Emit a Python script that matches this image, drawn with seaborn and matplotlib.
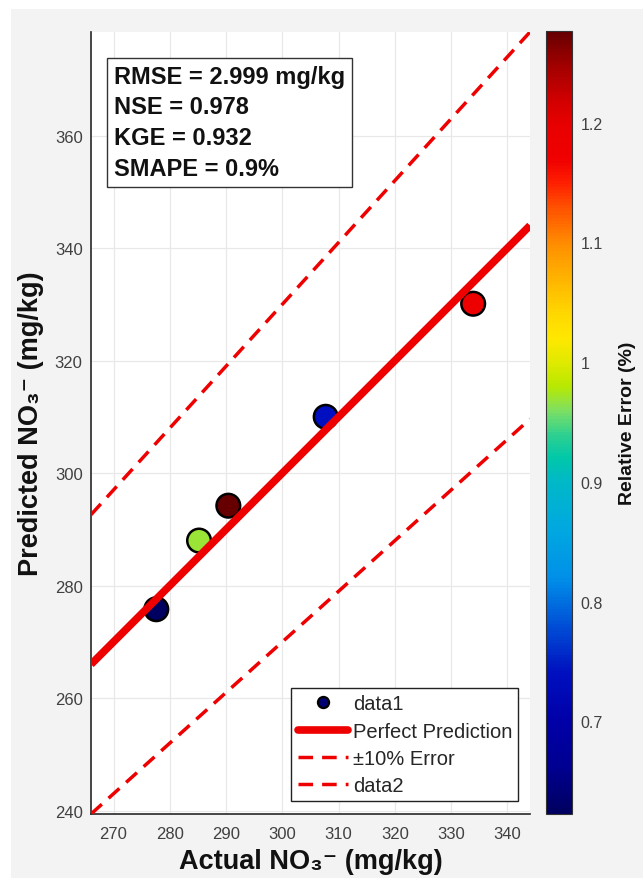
import numpy as np
import pandas as pd
import matplotlib
matplotlib.use("Agg")
import matplotlib.pyplot as plt
import seaborn as sns
from matplotlib.colors import LinearSegmentedColormap, Normalize
from matplotlib.cm import ScalarMappable
from matplotlib.lines import Line2D
from matplotlib.patches import Rectangle

# ---- data ----
actual = [277.6, 285.2, 290.4, 307.7, 333.9]
predicted = [275.8, 288.0, 294.2, 310.0, 330.1]
rel_error = [0.6226, 0.97, 1.2766, 0.74, 1.18]
x_limits = [266.0, 344.0]
y_limits = [239.4, 378.4]
x_ticks = [270, 280, 290, 300, 310, 320, 330, 340]
y_ticks = [240, 260, 280, 300, 320, 340, 360]
cbar_ticks = [0.7, 0.8, 0.9, 1.0, 1.1, 1.2]
cbar_ticklabels = ["0.7", "0.8", "0.9", "1", "1.1", "1.2"]
stats_lines = ["RMSE = 2.999 mg/kg", "NSE = 0.978", "KGE = 0.932", "SMAPE = 0.9%"]
legend_labels = ["data1", "Perfect Prediction", "\u00b110% Error", "data2"]

# colormap stops (value, colour)
cmap_values = [0.6226, 0.66, 0.70, 0.74, 0.77, 0.80, 0.82, 0.86, 0.90, 0.92, 0.94,
               0.96, 0.98, 1.00, 1.02, 1.04, 1.07, 1.10, 1.13, 1.15, 1.17, 1.20,
               1.22, 1.25, 1.2766]
cmap_colors = ["#000060", "#000090", "#0000a8", "#0010c0", "#0040d0", "#0070e0",
               "#0090e8", "#00a8e0", "#00b8c8", "#00c8a8", "#30d090", "#80e060",
               "#b8e800", "#e0ea00", "#ffe800", "#ffd800", "#ffb400", "#ff8c00",
               "#ff5000", "#ff2000", "#f00000", "#e80000", "#d00000", "#a00000",
               "#660000"]

df = pd.DataFrame({"actual": actual, "predicted": predicted, "err": rel_error})

sns.set_theme(style="white")
plt.rcParams["font.family"] = ["Liberation Sans", "DejaVu Sans"]

vmin, vmax = min(rel_error), max(rel_error)
pos = [(v - vmin) / (vmax - vmin) for v in cmap_values]
cmap = LinearSegmentedColormap.from_list("relerr", list(zip(pos, cmap_colors)))
norm = Normalize(vmin=vmin, vmax=vmax)

W, H = 643, 879
fig = plt.figure(figsize=(W / 100, H / 100), dpi=100, facecolor="white")
fig.patches.append(Rectangle((11 / W, 0), 1, 1 - 10 / H, transform=fig.transFigure,
                             facecolor="#f3f3f3", edgecolor="none", zorder=-10))

ax = fig.add_axes([91 / W, 64 / H, 439 / W, 782 / H])
cax = fig.add_axes([546 / W, 64 / H, 26 / W, 783 / H])

ax.set_facecolor("white")
sns.scatterplot(data=df, x="actual", y="predicted", hue="err", palette=cmap,
                hue_norm=norm, s=290, edgecolor="black", linewidth=1.8,
                legend=False, ax=ax, zorder=2)

lx = np.array(x_limits)
ax.plot(lx, lx, color="#ee0000", lw=5.5, solid_capstyle="butt", zorder=3)
ax.plot(lx, 1.1 * lx, color="#ee0000", lw=2.5, ls=(0, (4.2, 2.6)), zorder=3)
ax.plot(lx, 0.9 * lx, color="#ee0000", lw=2.5, ls=(0, (4.2, 2.6)), zorder=3)

ax.set_xlim(x_limits)
ax.set_ylim(y_limits)
ax.set_xticks(x_ticks)
ax.set_yticks(y_ticks)
ax.grid(True, color="#e8e8e8", lw=0.9)
ax.set_axisbelow(True)
for s in ["top", "right"]:
    ax.spines[s].set_visible(False)
for s in ["left", "bottom"]:
    ax.spines[s].set_color("#262626")
    ax.spines[s].set_linewidth(1.2)
ax.tick_params(axis="both", direction="in", length=5, width=1, color="#262626",
               labelcolor="#404040", labelsize=12)
ax.tick_params(axis="x", pad=9)
ax.tick_params(axis="y", pad=6)

ax.set_xlabel("Actual NO\u2083\u207b (mg/kg)", fontsize=19.5, fontweight="bold",
              color="#111111", labelpad=5)
ax.set_ylabel("Predicted NO\u2083\u207b (mg/kg)", fontsize=19.5, fontweight="bold",
              color="#111111", labelpad=8)

ax.text(0.052, 0.958, "\n".join(stats_lines), transform=ax.transAxes, ha="left",
        va="top", fontsize=17, fontweight="bold", color="#111111", linespacing=1.42,
        bbox=dict(boxstyle="square,pad=0.3", facecolor="white", edgecolor="#333333",
                  lw=1.0), zorder=5)

handles = [
    Line2D([], [], ls="none", marker="o", markersize=8, markerfacecolor="#000070",
           markeredgecolor="black", markeredgewidth=1.6),
    Line2D([], [], color="#ee0000", lw=5.5),
    Line2D([], [], color="#ee0000", lw=2.5, ls=(0, (4.2, 2.6))),
    Line2D([], [], color="#ee0000", lw=2.5, ls=(0, (4.2, 2.6))),
]
leg = ax.legend(handles, legend_labels, loc="lower right",
                bbox_to_anchor=(0.9734, 0.017), borderaxespad=0, fontsize=14.5,
                frameon=True, fancybox=False, framealpha=1, edgecolor="#222222",
                handlelength=2.5, handletextpad=0.25, labelspacing=0.4,
                borderpad=0.3)
leg.get_frame().set_linewidth(1.0)

sm = ScalarMappable(norm=norm, cmap=cmap)
cb = fig.colorbar(sm, cax=cax)
cb.outline.set_linewidth(0.8)
cb.outline.set_edgecolor("#333333")
cb.set_ticks(cbar_ticks)
cb.set_ticklabels(cbar_ticklabels)
cax.tick_params(direction="in", length=5, width=1, color="#333333",
                labelcolor="#404040", labelsize=11.5, pad=6)
cb.set_label("Relative Error (%)", fontsize=14, fontweight="bold", color="#111111",
             labelpad=12)

fig.savefig("out.png", dpi=100, facecolor=fig.get_facecolor())
